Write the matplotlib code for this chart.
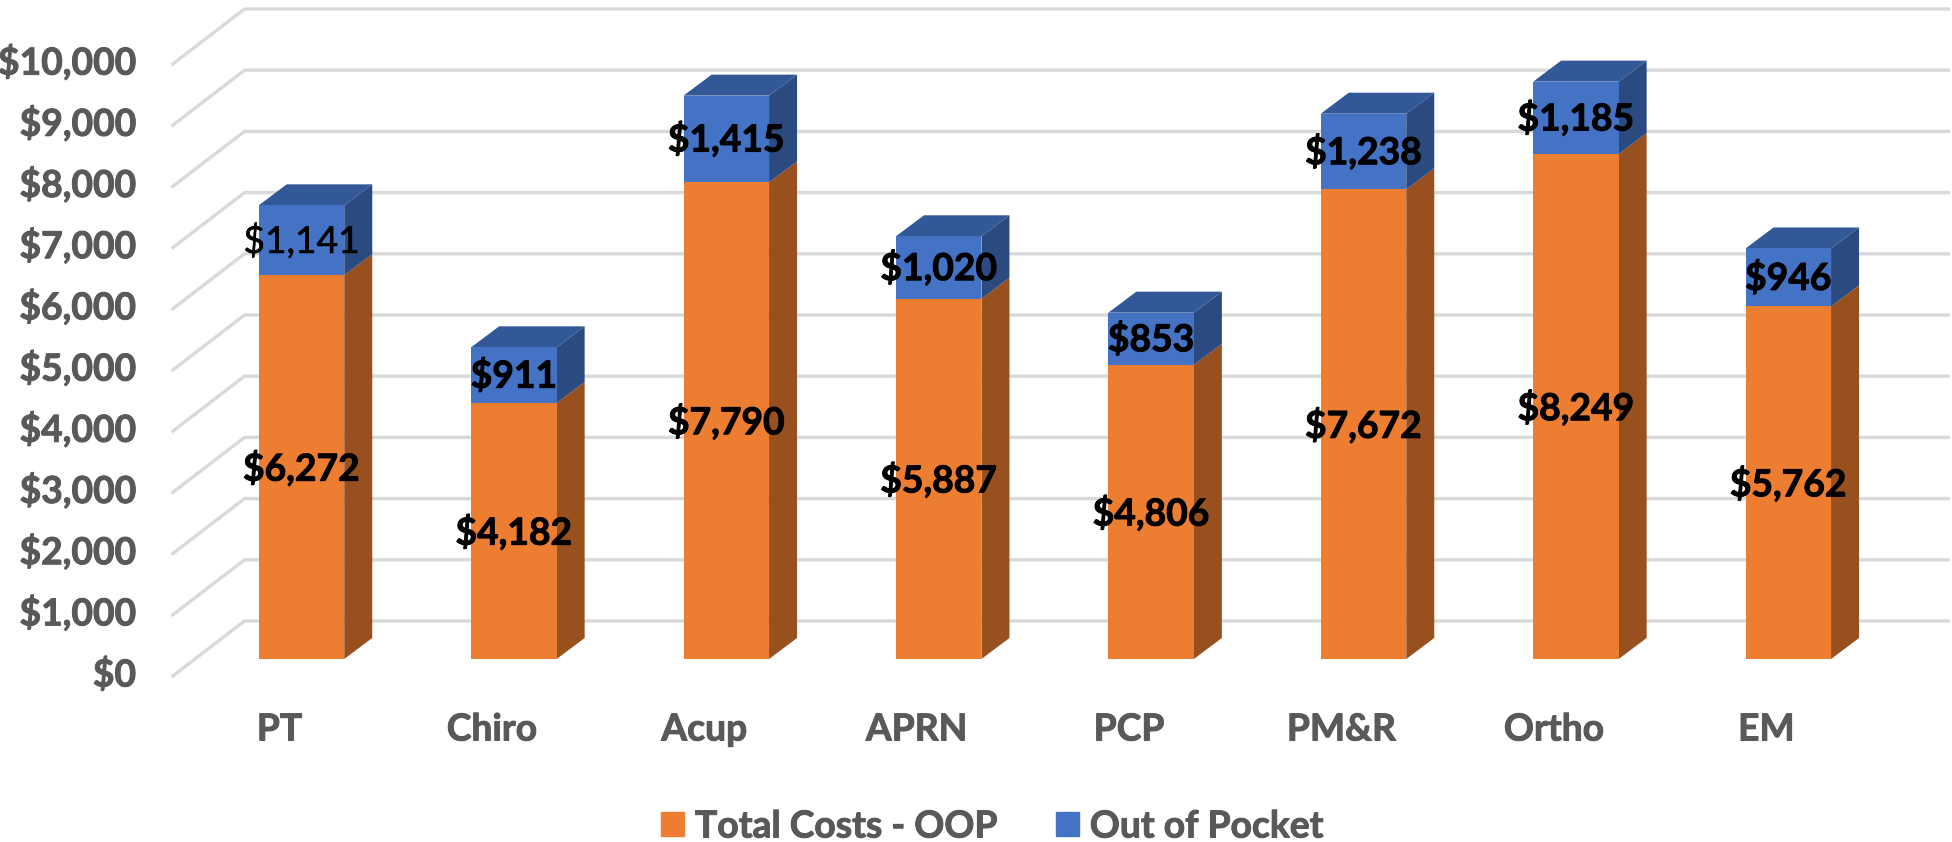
import matplotlib
matplotlib.use("Agg")
import matplotlib.pyplot as plt
import matplotlib.patheffects as pe
from matplotlib.patches import Patch

categories = ["PT", "Chiro", "Acup", "APRN", "PCP", "PM&R", "Ortho", "EM"]
total_minus_oop = [6272, 4182, 7790, 5887, 4806, 7672, 8249, 5762]
out_of_pocket = [1141, 911, 1415, 1020, 853, 1238, 1185, 946]
y_ticks = [0, 1000, 2000, 3000, 4000, 5000, 6000, 7000, 8000, 9000, 10000]
series_names = ["Total Costs - OOP", "Out of Pocket"]

W, H = 1952, 842
PX_X = 212.4          # pixels per category
PX_Y = 0.0612         # pixels per dollar
X0 = 301.5            # pixel of first bar centre
Y0 = 659.0            # pixel of $0 on the bar front
px = lambda d: d / PX_X
py = lambda d: d / PX_Y

ORANGE, ORANGE_SIDE = "#ED7D31", "#97501E"
BLUE, BLUE_SIDE, BLUE_TOP = "#4472C4", "#2B4A80", "#335897"
GRID = "#D9D9D9"
TEXT = "#595959"
FONT = "Lato"
FS = 26.8
BOLDER = [pe.withStroke(linewidth=0.7, foreground=TEXT)]
BOLDER_K = [pe.withStroke(linewidth=0.7, foreground="black")]
MEDIUM_K = [pe.withStroke(linewidth=0.4, foreground="black")]

fig = plt.figure(figsize=(W / 100, H / 100), dpi=100)
ax = fig.add_axes([0, 0, 1, 1])
ax.set_xlim(-X0 / PX_X, (W - X0) / PX_X)
ax.set_ylim(-(H - Y0) / PX_Y, Y0 / PX_Y)
ax.axis("off")

# Floor / wall gridlines
front_dx, front_dy = px(-130), py(-18)
back_dx, back_dy = px(-57), py(38)
right = (1950 - X0) / PX_X
for v in y_ticks:
    ax.plot([front_dx, back_dx, right],
            [v + front_dy, v + back_dy, v + back_dy],
            color=GRID, lw=2.4, zorder=1, solid_joinstyle="miter",
            solid_capstyle="butt")
    ax.text(px(136 - X0), v + front_dy + py(2), f"${v:,}", ha="right", va="center",
            fontsize=FS, fontweight="bold", color=TEXT, family=FONT,
            path_effects=BOLDER)

# Bars with a 3-D look
bw = px(85.5)
dx, dy = px(28), py(21)
xs = list(range(len(categories)))
ax.bar(xs, total_minus_oop, width=bw, color=ORANGE, zorder=4)
ax.bar(xs, out_of_pocket, width=bw, bottom=total_minus_oop, color=BLUE, zorder=4)

for i in xs:
    r = i + bw / 2
    l = i - bw / 2
    a = total_minus_oop[i]
    t = a + out_of_pocket[i]
    ax.fill([r, r + dx, r + dx, r], [0, dy, a + dy, a], color=ORANGE_SIDE, lw=0, zorder=3)
    ax.fill([r, r + dx, r + dx, r], [a, a + dy, t + dy, t], color=BLUE_SIDE, lw=0, zorder=3)
    ax.fill([l, l + dx, r + dx, r], [t, t + dy, t + dy, t], color=BLUE_TOP, lw=0, zorder=3)
    ax.text(i, a / 2 - py(2), f"${a:,}", ha="center", va="center", fontsize=FS,
            fontweight="bold", color="black", family=FONT, zorder=6, path_effects=BOLDER_K)
    first = i == 0
    ax.text(i, a + out_of_pocket[i] / 2 - py(1), f"${out_of_pocket[i]:,}", ha="center",
            va="center", fontsize=FS, color="black", family=FONT, zorder=6,
            fontweight="normal" if first else "bold",
            path_effects=MEDIUM_K if first else BOLDER_K)
    ax.text(i + px(-22), py(659 - 730), categories[i], ha="center", va="center",
            fontsize=FS, fontweight="bold", color=TEXT, family=FONT, path_effects=BOLDER)

handles = [Patch(color=ORANGE, label=series_names[0]), Patch(color=BLUE, label=series_names[1])]
leg = ax.legend(handles=handles, loc="center", bbox_to_anchor=(992 / W, 1 - 827 / H),
          ncol=2, frameon=False, handlelength=0.62, handleheight=0.62,
          handletextpad=0.3, columnspacing=1.57, borderpad=0, borderaxespad=0,
          prop={"family": FONT, "weight": "bold", "size": FS}, labelcolor=TEXT)
for t in leg.get_texts():
    t.set_path_effects(BOLDER)

fig.savefig("out.png", dpi=100)
